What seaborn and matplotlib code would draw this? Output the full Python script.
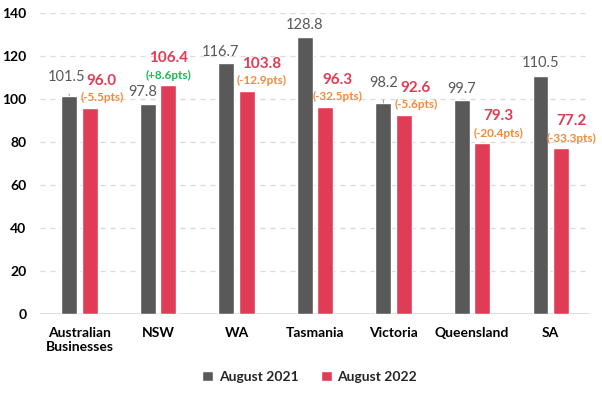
import pandas as pd
import matplotlib
matplotlib.use("Agg")
import matplotlib.pyplot as plt
import seaborn as sns

# data
regions = ["Australian\nBusinesses", "NSW", "WA", "Tasmania", "Victoria", "Queensland", "SA"]
aug_2021 = [101.5, 97.8, 116.7, 128.8, 98.2, 99.7, 110.5]
aug_2022 = [96.0, 106.4, 103.8, 96.3, 92.6, 79.3, 77.2]
changes = ["(-5.5pts)", "(+8.6pts)", "(-12.9pts)", "(-32.5pts)", "(-5.6pts)", "(-20.4pts)", "(-33.3pts)"]
periods = ["August 2021", "August 2022"]

GREY = "#595959"
RED = "#E03C55"
ORANGE = "#F28A3A"
GREEN = "#1DB954"

# label nudges in pixels (the original places some labels off-centre)
grey_dx = [-3, -5, -6, 0, 0, 0, 0]
grey_dy = [19, 12, 11, 12, 20, 11, 13]
red_dx = [12, 0, 15, 12, 12, 16, 11]

df = pd.DataFrame({
    "region": regions * 2,
    "period": [periods[0]] * len(regions) + [periods[1]] * len(regions),
    "value": aug_2021 + aug_2022,
})

sns.set_theme(style="white")
plt.rcParams["font.family"] = ["Lato", "DejaVu Sans"]

fig = plt.figure(figsize=(6.02, 3.93), dpi=100)
ax = fig.add_axes([0.067, 0.201, 0.913, 0.766])

sns.barplot(data=df, x="region", y="value", hue="period",
            palette=[GREY, RED], width=0.52, gap=0.22,
            saturation=1, ax=ax, legend=True)

ax.set_ylim(0, 140)
ax.set_yticks(range(0, 141, 20))
ax.set_xlim(-0.5, len(regions) - 0.5)
ax.set_xlabel("")
ax.set_ylabel("")
sns.despine(ax=ax, left=True, bottom=True)
ax.yaxis.grid(True, color="#D9D9D9", linestyle=(0, (4, 4)), linewidth=0.9)
ax.set_axisbelow(True)
ax.axhline(0, color="#D9D9D9", linewidth=1.2, zorder=0)
ax.tick_params(axis="both", length=0, labelsize=10, colors="black")
ax.tick_params(axis="y", pad=10)
ax.tick_params(axis="x", pad=9)
for lbl in ax.get_xticklabels() + ax.get_yticklabels():
    lbl.set_fontweight("bold")

px = 0.72  # points per pixel at 100 dpi
grey_bars, red_bars = ax.containers[0], ax.containers[1]

for i, bar in enumerate(grey_bars):
    x = bar.get_x() + bar.get_width() / 2
    top = bar.get_height()
    arrow = None
    if grey_dy[i] > 15:
        arrow = dict(arrowstyle="-", color="#A6A6A6", lw=0.8, shrinkA=5, shrinkB=0)
    ax.annotate(f"{aug_2021[i]:.1f}", (x, top),
                xytext=(grey_dx[i] * px, grey_dy[i] * px), textcoords="offset points",
                ha="center", va="center", color=GREY, fontsize=10.5,
                arrowprops=arrow)

for i, bar in enumerate(red_bars):
    x = bar.get_x() + bar.get_width() / 2
    top = bar.get_height()
    ax.annotate(f"{aug_2022[i]:.1f}", (x, top),
                xytext=(red_dx[i] * px, 27 * px), textcoords="offset points",
                ha="center", va="center", color=RED, fontsize=11, fontweight="bold")
    ax.annotate(changes[i], (x, top),
                xytext=(red_dx[i] * px, 10 * px), textcoords="offset points",
                ha="center", va="center", fontsize=8.5, fontweight="bold",
                color=GREEN if changes[i].startswith("(+") else ORANGE)

ax.legend(loc="center", bbox_to_anchor=(0.49, -0.209),
          ncol=2, frameon=False, handlelength=0.8, handleheight=0.8,
          handletextpad=0.4, columnspacing=1.6, prop={"weight": "bold", "size": 10})

fig.savefig("out.png", dpi=100)
